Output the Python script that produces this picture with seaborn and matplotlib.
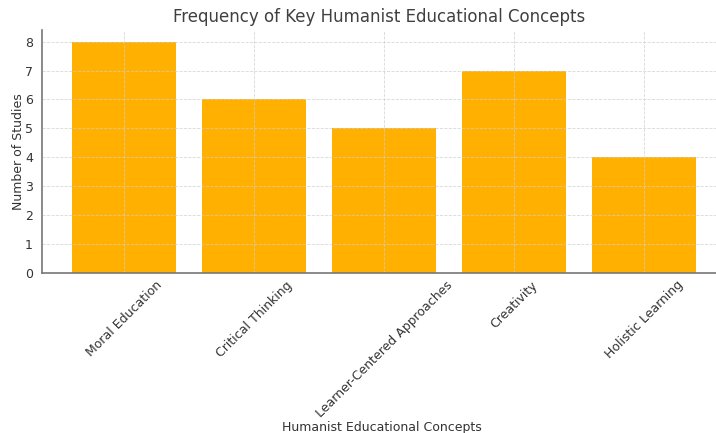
import matplotlib
matplotlib.use("Agg")
import matplotlib.pyplot as plt
import seaborn as sns
import pandas as pd

# data
concepts = ["Moral Education", "Critical Thinking", "Learner-Centered Approaches",
            "Creativity", "Holistic Learning"]
studies = [8, 6, 5, 7, 4]

df = pd.DataFrame({"concept": concepts, "studies": studies})

sns.set_style("whitegrid")
plt.rcParams["font.family"] = ["DejaVu Sans"]
plt.rcParams["text.color"] = "#333333"
plt.rcParams["axes.labelcolor"] = "#333333"

fig = plt.figure(figsize=(7.16, 4.33), dpi=100)
ax = fig.add_axes([42 / 716, 1 - 273 / 433, (716 - 42) / 716, (273 - 30) / 433])

sns.barplot(data=df, x="concept", y="studies", color="#FFB000", saturation=1,
            width=0.8, linewidth=0, ax=ax)

ax.set_xlim(-0.63, 4.55)
ax.set_ylim(0, 8.4)
ax.set_title("Frequency of Key Humanist Educational Concepts", fontsize=12,
             pad=6, color="#404040")
ax.set_xlabel("Humanist Educational Concepts", fontsize=9)
ax.xaxis.set_label_coords(0.505, -0.61)
ax.set_ylabel("Number of Studies", fontsize=9)
ax.yaxis.set_label_coords(-0.025, 0.5)
ax.tick_params(axis="both", labelsize=9, length=3, colors="#333333")
ax.tick_params(axis="x", labelrotation=45, pad=1)
for lbl in ax.get_xticklabels():
    lbl.set_ha("center")

for p in ax.patches:
    p.set_zorder(1)
ax.grid(True, linestyle="--", color="#cfcfcf", linewidth=0.6, alpha=0.8, zorder=2)
ax.set_axisbelow(False)
for s in ["top", "right"]:
    ax.spines[s].set_visible(False)
for s in ["left", "bottom"]:
    ax.spines[s].set_color("#777777")
    ax.spines[s].set_linewidth(1.2)
    ax.spines[s].set_zorder(3)

fig.savefig("out.png", dpi=100)
